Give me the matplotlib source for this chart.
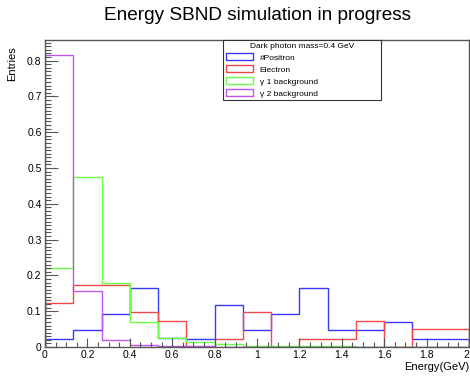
import matplotlib
matplotlib.use("Agg")
import matplotlib.pyplot as plt
import numpy as np
from matplotlib.patches import Patch
from matplotlib.ticker import MultipleLocator, FuncFormatter

plt.rcParams["font.family"] = ["Liberation Sans", "DejaVu Sans"]

# 15 bins from 0 to 2 GeV
edges = np.linspace(0.0, 2.0, 16)

positron = [0.023, 0.047, 0.093, 0.164, 0.025, 0.023, 0.117, 0.047,
            0.093, 0.164, 0.047, 0.047, 0.071, 0.023, 0.023]
electron = [0.123, 0.173, 0.173, 0.098, 0.074, 0.0, 0.023, 0.098,
            0.0, 0.023, 0.023, 0.074, 0.0, 0.049, 0.049]
gamma1 = [0.222, 0.474, 0.180, 0.069, 0.026, 0.014, 0.007, 0.004,
          0.003, 0.002, 0.002, 0.0, 0.0, 0.0, 0.0]
gamma2 = [0.816, 0.156, 0.020, 0.005, 0.003, 0.002, 0.0, 0.0,
          0.0, 0.0, 0.0, 0.0, 0.0, 0.0, 0.0]

labels = ["#Positron", "Electron", "\u03b3 1 background", "\u03b3 2 background"]
colors = ["#3838ff", "#f04848", "#66ff44", "#c055f0"]

W, H = 470, 379
fig = plt.figure(figsize=(W / 100, H / 100), dpi=100)
fig.patch.set_facecolor("white")
ax = fig.add_axes([45 / W, 1 - 347 / H, (469 - 45) / W, (347 - 40) / H])

for vals, col in zip([positron, electron, gamma1, gamma2], colors):
    ax.stairs(vals, edges, baseline=0, color=col, linewidth=1.0)

xmax = 2.0
ax.set_xlim(0, xmax)
ax.set_ylim(0, 0.8575)

frame = "#555555"
for s in ax.spines.values():
    s.set_color(frame)
    s.set_linewidth(1.0)

ax.xaxis.set_major_locator(MultipleLocator(0.2))
ax.xaxis.set_minor_locator(MultipleLocator(0.05))
ax.yaxis.set_major_locator(MultipleLocator(0.1))
ax.yaxis.set_minor_locator(MultipleLocator(0.01))
# the label at the right end is placed by hand so it stays inside the canvas
ax.xaxis.set_major_formatter(FuncFormatter(lambda v, _: "" if v > xmax - 1e-6 else f"{v:g}"))
ax.yaxis.set_major_formatter(FuncFormatter(lambda v, _: f"{v:g}"))

ax.tick_params(axis="x", which="major", direction="in", length=6.5, width=0.8,
               color=frame, labelsize=7.5, pad=2)
ax.tick_params(axis="x", which="minor", direction="in", length=3.5, width=0.8, color=frame)
ax.tick_params(axis="y", which="major", direction="in", length=9, width=0.8,
               color=frame, labelsize=7.5, pad=2.5)
ax.tick_params(axis="y", which="minor", direction="in", length=4.5, width=0.8, color=frame)
ax.annotate(f"{xmax:g}", xy=(xmax, 0), xycoords="data", xytext=(0, -2),
            textcoords="offset points", ha="right", va="top", fontsize=7.5,
            annotation_clip=False)

fig.text(257 / W, 1 - 16 / H, "Energy SBND simulation in progress",
         ha="center", va="center", fontsize=13.7)
fig.text(12 / W, 1 - 46 / H, "Entries", rotation=90, ha="center", va="top",
         fontsize=8)
fig.text(469 / W, 1 - 367 / H, "Energy(GeV)", ha="right", va="center",
         fontsize=8)

handles = [Patch(facecolor="white", edgecolor=c, linewidth=1.0, label=l)
           for c, l in zip(colors, labels)]
leg = fig.legend(handles=handles, title="Dark photon mass=0.4 GeV",
                 loc="upper left",
                 bbox_to_anchor=(223 / W, 1 - 100 / H, (381 - 223) / W, 60 / H),
                 mode="expand", borderaxespad=0, fontsize=6, title_fontsize=6,
                 handlelength=3.3, handleheight=0.9, labelspacing=0.45,
                 handletextpad=0.8, borderpad=0.3, fancybox=False,
                 framealpha=1, edgecolor="#333333", alignment="center")
leg.get_frame().set_linewidth(0.8)

fig.savefig("out.png", dpi=100, facecolor="white")
